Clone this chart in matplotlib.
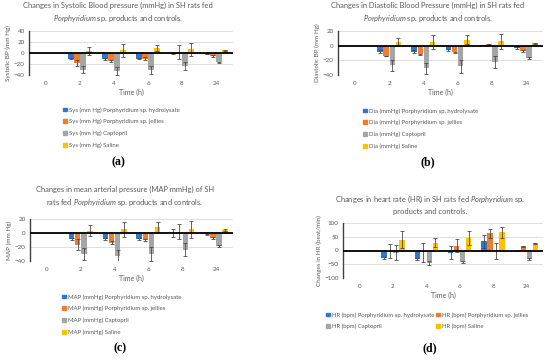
import numpy as np
import matplotlib
matplotlib.use("Agg")
import matplotlib.pyplot as plt
from matplotlib.patches import Patch

plt.rcParams['font.family'] = ['Lato', 'DejaVu Sans']
plt.rcParams['mathtext.fontset'] = 'custom'
plt.rcParams['mathtext.rm'] = 'Lato'
plt.rcParams['mathtext.it'] = 'Lato:italic'

times = ["0", "2", "4", "6", "8", "24"]
series = ["Porphyridium sp. hydrolysate", "Porphyridium sp. jellies", "Captopril", "Saline"]
colors = ["#2E75D6", "#F07D2E", "#A5A5A5", "#FFC000"]
nan = np.nan

# systolic
sys_hyd = [nan, -10, -11, -10, -1, -2]
sys_jel = [nan, -18, -14, -10, 2, -5]
sys_cap = [nan, -30, -33, -31, -24, -17]
sys_sal = [nan, 4, 5, 9, 7, 5]
sys_hyd_err = [nan, 1.5, 1.5, 1.5, 0.5, 0.5]
sys_jel_err = [nan, 6, 2, 2, 13, 1.5]
sys_cap_err = [nan, 7, 7, 8, 7, 1.5]
sys_sal_err = [nan, 7, 12, 6, 12, 1]

# diastolic
dia_hyd = [nan, -8, -8, -6, 1, -3]
dia_jel = [nan, -14, -12, -9, 2, -7]
dia_cap = [nan, -27, -31, -28, -22, -17]
dia_sal = [nan, 5, 5, 8, 6, 3]
dia_hyd_err = [nan, 1.5, 1.5, 1.5, 0.5, 1]
dia_jel_err = [nan, 0.5, 0.5, 0.5, 0.5, 1]
dia_cap_err = [nan, 8, 7, 9, 8, 1.5]
dia_sal_err = [nan, 6, 9, 6, 10, 1]

# mean arterial pressure
map_hyd = [nan, -9, -9, -8, 0, -2]
map_jel = [nan, -17, -14, -10, 2, -7]
map_cap = [nan, -30, -33, -30, -24, -18]
map_sal = [nan, 3, 5, 8, 5, 4]
map_hyd_err = [nan, 1.5, 1.5, 1.5, 6, 0.5]
map_jel_err = [nan, 8, 2, 2, 11, 1.5]
map_cap_err = [nan, 9, 9, 10, 9, 1.5]
map_sal_err = [nan, 8, 11, 7, 12, 1]

# heart rate
hr_hyd = [nan, -28, -30, -8, 33, 0]
hr_jel = [nan, -3, -7, 17, 63, 15]
hr_cap = [nan, -8, -45, -42, -2, -32]
hr_sal = [nan, 40, 28, 45, 67, 26]
hr_hyd_err = [nan, 3, 3, 24, 24, 0]
hr_jel_err = [nan, 26, 34, 24, 17, 2]
hr_cap_err = [nan, 28, 6, 3, 28, 4]
hr_sal_err = [nan, 30, 17, 25, 20, 3]

W, H = 550, 360
fig = plt.figure(figsize=(W / 100, H / 100), dpi=100)
grey = "#595959"


def px_axes(l, t, r, b):
    return fig.add_axes([l / W, 1 - b / H, (r - l) / W, (b - t) / H])


def panel(box, vals, errs, ylim, yticks, ylabel, prefix, title, tcenter, label, lab_pos,
          leg_pos, ncol=1):
    ax = px_axes(*box)
    x = np.arange(len(times))
    offs = [-0.27, -0.09, 0.09, 0.27]
    for v, e, c, o in zip(vals, errs, colors, offs):
        ax.bar(x + o, np.array(v, float), width=0.165, color=c, zorder=2)
        ax.errorbar(x + o, np.array(v, float), yerr=np.array(e, float), fmt='none',
                    ecolor="#4a4a4a", elinewidth=0.6, capsize=1.3, capthick=0.6, zorder=3)
    ax.axhline(0, color="black", lw=1.3, zorder=4)
    ax.set_xlim(-0.5, len(times) - 0.5)
    ax.set_ylim(*ylim)
    ax.set_yticks(yticks)
    ax.set_xticks(x)
    ax.set_xticklabels(times)
    ax.yaxis.grid(True, color="#D9D9D9", lw=0.6, zorder=0)
    ax.set_axisbelow(True)
    for s in ["top", "right", "bottom"]:
        ax.spines[s].set_visible(False)
    ax.spines["left"].set_color("#404040")
    ax.spines["left"].set_linewidth(1.0)
    ax.tick_params(axis='both', length=0, labelsize=4.5, labelcolor=grey)
    ax.tick_params(axis='x', pad=4)
    ax.tick_params(axis='y', pad=3)
    ax.set_xlabel("Time (h)", fontsize=5, color=grey, labelpad=2)
    ax.set_ylabel(ylabel, fontsize=4.5, color=grey, labelpad=2)
    fig.text(tcenter[0] / W, 1 - tcenter[1] / H, title, ha='center', va='center',
             fontsize=5.4, color=grey, linespacing=1.5)
    fig.text(lab_pos[0] / W, 1 - lab_pos[1] / H, label, ha='center', va='center',
             fontsize=8.5, family='Liberation Serif', fontweight='bold', color="black")
    handles = [Patch(color=c) for c in colors]
    names = [prefix + s for s in series]
    if ncol == 2:
        handles = [handles[0], handles[2], handles[1], handles[3]]
        names = [names[0], names[2], names[1], names[3]]
    leg = fig.legend(handles, names, loc='upper left',
                     bbox_to_anchor=(leg_pos[0] / W, 1 - leg_pos[1] / H),
                     frameon=False, fontsize=4.3, ncol=ncol, handlelength=0.6,
                     handleheight=0.6, handletextpad=0.4, labelspacing=1.05,
                     columnspacing=0.3, borderaxespad=0, borderpad=0)
    for t in leg.get_texts():
        t.set_color(grey)
    return ax


panel((29, 31, 233, 75), [sys_hyd, sys_jel, sys_cap, sys_sal],
      [sys_hyd_err, sys_jel_err, sys_cap_err, sys_sal_err],
      (-40, 40), [-40, -20, 0, 20, 40], "Systolic BP (mm Hg)", "Sys (mm Hg) ",
      "Changes in Systolic Blood pressure (mmHg) in SH rats fed\n$\\it{Porphyridium}$ sp. products and controls.",
      (118, 13), "(a)", (118, 162), (63, 107))

panel((338, 31, 543, 75), [dia_hyd, dia_jel, dia_cap, dia_sal],
      [dia_hyd_err, dia_jel_err, dia_cap_err, dia_sal_err],
      (-40, 20), [-40, -20, 0, 20], "Diastolic BP (mm Hg)", "Dia (mmHg) ",
      "Changes in Diastolic Blood Pressure (mmHg) in SH rats fed\n$\\it{Porphyridium}$ sp. products and controls.",
      (428, 13), "(b)", (428, 162), (363, 108))

panel((30, 219, 233, 261), [map_hyd, map_jel, map_cap, map_sal],
      [map_hyd_err, map_jel_err, map_cap_err, map_sal_err],
      (-40, 20), [-40, -20, 0, 20], "MAP (mm Hg)", "MAP (mmHg) ",
      "Changes in mean arterial pressure (MAP mmHg) of SH\nrats fed $\\it{Porphyridium}$ sp. products and controls.",
      (125, 197), "(c)", (120, 348), (62, 294))

panel((343, 223, 543, 278), [hr_hyd, hr_jel, hr_cap, hr_sal],
      [hr_hyd_err, hr_jel_err, hr_cap_err, hr_sal_err],
      (-100, 100), [-100, -50, 0, 50, 100], "Changes in HR (beat/min)", "HR (bpm) ",
      "Changes in heart rate (HR) in SH rats fed $\\it{Porphyridium}$ sp.\nproducts and controls.",
      (430, 204), "(d)", (430, 348), (326, 312), ncol=2)

fig.savefig("out.png", dpi=100, facecolor="white")
